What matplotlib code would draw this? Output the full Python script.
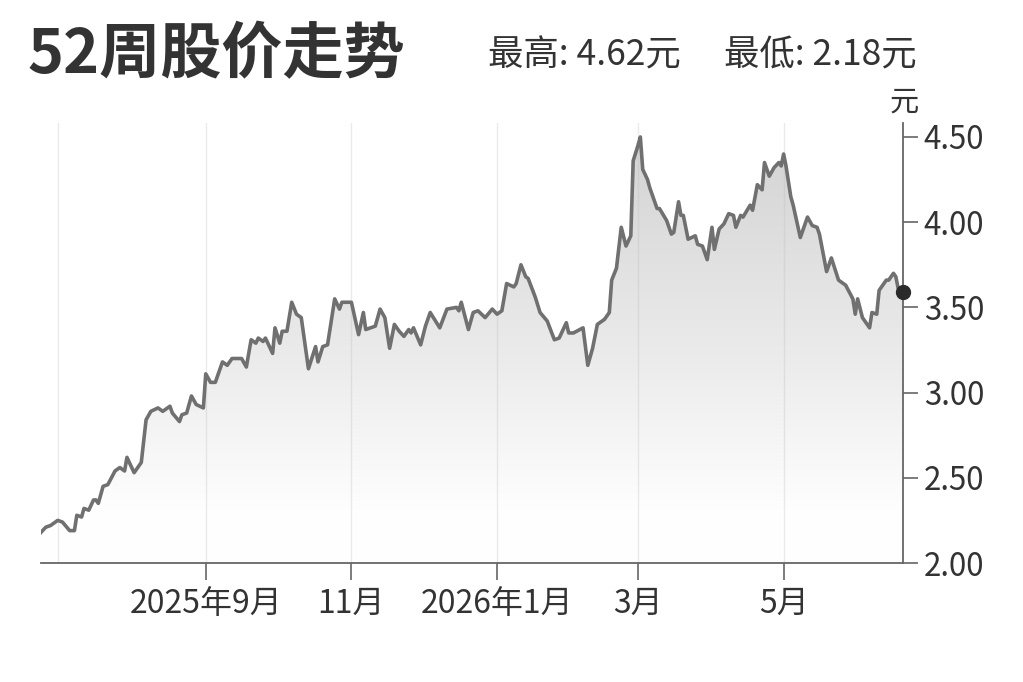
import numpy as np
import pandas as pd
import matplotlib
matplotlib.use("Agg")
import matplotlib.pyplot as plt
import matplotlib.dates as mdates
from matplotlib.colors import LinearSegmentedColormap
from matplotlib.patches import Polygon

plt.rcParams['font.family'] = ['Noto Sans CJK SC', 'DejaVu Sans']

# daily closes
dates = [
    "2025-06-24", "2025-06-26", "2025-06-28",
    "2025-07-01", "2025-07-03", "2025-07-06", "2025-07-08", "2025-07-09", "2025-07-11", "2025-07-12",
    "2025-07-14", "2025-07-16", "2025-07-17", "2025-07-18", "2025-07-20", "2025-07-22", "2025-07-25",
    "2025-07-27", "2025-07-29", "2025-07-30",
    "2025-08-02", "2025-08-04", "2025-08-05", "2025-08-07", "2025-08-09", "2025-08-12", "2025-08-14",
    "2025-08-17", "2025-08-18", "2025-08-21", "2025-08-22", "2025-08-24", "2025-08-26", "2025-08-28",
    "2025-08-31",
    "2025-09-01", "2025-09-03", "2025-09-05", "2025-09-08", "2025-09-10", "2025-09-12", "2025-09-16",
    "2025-09-18", "2025-09-20", "2025-09-22", "2025-09-23", "2025-09-25", "2025-09-26", "2025-09-29",
    "2025-09-30",
    "2025-10-02", "2025-10-03", "2025-10-05", "2025-10-07", "2025-10-09", "2025-10-11", "2025-10-14",
    "2025-10-17", "2025-10-18", "2025-10-20", "2025-10-22", "2025-10-25", "2025-10-27", "2025-10-28",
    "2025-11-01", "2025-11-04", "2025-11-06", "2025-11-07", "2025-11-09", "2025-11-11", "2025-11-13",
    "2025-11-15", "2025-11-17", "2025-11-19", "2025-11-21", "2025-11-23", "2025-11-25", "2025-11-26",
    "2025-11-27", "2025-11-30",
    "2025-12-02", "2025-12-04", "2025-12-08", "2025-12-11", "2025-12-15", "2025-12-16", "2025-12-17",
    "2025-12-20", "2025-12-22", "2025-12-24", "2025-12-27", "2025-12-30",
    "2026-01-01", "2026-01-03", "2026-01-05", "2026-01-08", "2026-01-09", "2026-01-11", "2026-01-13",
    "2026-01-14", "2026-01-17", "2026-01-19", "2026-01-22", "2026-01-25", "2026-01-27", "2026-01-30",
    "2026-01-31",
    "2026-02-02", "2026-02-06", "2026-02-08", "2026-02-10", "2026-02-12", "2026-02-15", "2026-02-17",
    "2026-02-18", "2026-02-20", "2026-02-22", "2026-02-24", "2026-02-26", "2026-02-27",
    "2026-03-01", "2026-03-02", "2026-03-03", "2026-03-05", "2026-03-06", "2026-03-09", "2026-03-10",
    "2026-03-13", "2026-03-15", "2026-03-16", "2026-03-18", "2026-03-19", "2026-03-20", "2026-03-22",
    "2026-03-25", "2026-03-26", "2026-03-28", "2026-03-30",
    "2026-04-01", "2026-04-02", "2026-04-04", "2026-04-06", "2026-04-08", "2026-04-10", "2026-04-11",
    "2026-04-13", "2026-04-14", "2026-04-17", "2026-04-18", "2026-04-20", "2026-04-22", "2026-04-23",
    "2026-04-25", "2026-04-27", "2026-04-29", "2026-04-30",
    "2026-05-01", "2026-05-02", "2026-05-04", "2026-05-05", "2026-05-08", "2026-05-11", "2026-05-13",
    "2026-05-15", "2026-05-16", "2026-05-19", "2026-05-21", "2026-05-24", "2026-05-27", "2026-05-30",
    "2026-05-31",
    "2026-06-01", "2026-06-03", "2026-06-06", "2026-06-07", "2026-06-09", "2026-06-10", "2026-06-11",
    "2026-06-13", "2026-06-14", "2026-06-16", "2026-06-17", "2026-06-18", "2026-06-20",
]

prices = [
    2.18, 2.21, 2.22,
    2.25, 2.24, 2.19, 2.19, 2.28, 2.27, 2.32, 2.31, 2.37, 2.37, 2.35, 2.45, 2.46, 2.54, 2.56, 2.54, 2.62,
    2.53, 2.57, 2.59, 2.84, 2.89, 2.91, 2.89, 2.92, 2.88, 2.83, 2.87, 2.88, 2.98, 2.93, 2.91,
    3.11, 3.06, 3.06, 3.18, 3.16, 3.20, 3.20, 3.15, 3.31, 3.29, 3.32, 3.30, 3.32, 3.23, 3.38,
    3.29, 3.36, 3.36, 3.53, 3.46, 3.44, 3.14, 3.27, 3.18, 3.27, 3.28, 3.55, 3.49, 3.53,
    3.53, 3.34, 3.47, 3.37, 3.38, 3.39, 3.49, 3.44, 3.26, 3.40, 3.36, 3.33, 3.37, 3.35, 3.38, 3.28,
    3.39, 3.47, 3.38, 3.49, 3.50, 3.48, 3.53, 3.37, 3.47, 3.48, 3.44, 3.49,
    3.46, 3.48, 3.64, 3.62, 3.64, 3.75, 3.68, 3.67, 3.56, 3.47, 3.42, 3.31, 3.32, 3.41, 3.35,
    3.35, 3.38, 3.16, 3.26, 3.40, 3.43, 3.47, 3.66, 3.73, 3.97, 3.86, 3.92, 4.36,
    4.45, 4.50, 4.31, 4.25, 4.20, 4.08, 4.08, 4.01, 3.93, 3.94, 4.12, 4.04, 4.04, 3.90, 3.92, 3.87, 3.86, 3.78,
    3.97, 3.84, 3.96, 3.99, 4.05, 4.04, 3.97, 4.04, 4.03, 4.10, 4.07, 4.22, 4.19, 4.35, 4.27, 4.32, 4.35, 4.33,
    4.40, 4.33, 4.15, 4.10, 3.91, 4.03, 3.98, 3.97, 3.93, 3.71, 3.79, 3.66, 3.63, 3.55, 3.46,
    3.55, 3.44, 3.38, 3.47, 3.46, 3.60, 3.62, 3.66, 3.66, 3.70, 3.68, 3.61, 3.59,
]

tick_dates = ["2025-09-01", "2025-11-01", "2026-01-01", "2026-03-01", "2026-05-01"]
tick_labels = ["2025年9月", "11月", "2026年1月", "3月", "5月"]
grid_dates = ["2025-07-01"] + tick_dates
y_ticks = [2.0, 2.5, 3.0, 3.5, 4.0, 4.5]

title = "52周股价走势"
high_text = "最高: 4.62元"
low_text = "最低: 2.18元"
unit = "元"

assert len(dates) == len(prices)
d = pd.to_datetime(dates)
x = mdates.date2num(d)
y = np.array(prices)

fig = plt.figure(figsize=(10.23, 6.82), dpi=100)
ax = fig.add_axes([41 / 1023, 1 - 563 / 682, 862 / 1023, 440 / 682])

ymin, ymax = 2.0, 4.582
x0, x1 = x[0], x[-1]

# gradient under the line, white low down, light grey near the top
cmap = LinearSegmentedColormap.from_list(
    "fade", [(0, "#ffffff"), (0.12, "#fefefe"), (0.45, "#ececec"), (1, "#d2d2d2")])
grad = np.linspace(0, 1, 256).reshape(-1, 1)
im = ax.imshow(grad, extent=[x0, x1, ymin, ymax], origin="lower",
               aspect="auto", cmap=cmap, zorder=1)
verts = [(x0, ymin)] + list(zip(x, y)) + [(x1, ymin)]
clip = Polygon(verts, closed=True, transform=ax.transData,
               facecolor="none", edgecolor="none")
ax.add_patch(clip)
im.set_clip_path(clip)

for g in pd.to_datetime(grid_dates):
    ax.axvline(g, color="#bbbbbb", lw=1.0, alpha=0.3, zorder=2)

ax.plot(d, y, color="#707070", lw=2.6, zorder=3, solid_joinstyle="round")
ax.plot(d[-1], y[-1], "o", color="#2b2b2b", ms=10, zorder=4, clip_on=False)

ax.set_xlim(x0, x1)
ax.set_ylim(ymin, ymax)

ax.set_xticks(pd.to_datetime(tick_dates))
ax.set_xticklabels(tick_labels)
ax.yaxis.tick_right()
ax.set_yticks(y_ticks)
ax.set_yticklabels([f"{v:.2f}" for v in y_ticks])

ax.tick_params(axis="x", length=12, width=1.2, color="#666666", pad=6,
               labelsize=23, labelcolor="#333333")
ax.tick_params(axis="y", length=11, width=1.2, color="#666666", pad=4,
               labelsize=22.5, labelcolor="#333333")

for s in ["left", "top"]:
    ax.spines[s].set_visible(False)
for s in ["right", "bottom"]:
    ax.spines[s].set_color("#666666")
    ax.spines[s].set_linewidth(1.3)

fig.text(27 / 1023, 1 - 55 / 682, title, fontsize=44, fontweight="bold",
         color="#333333", va="center", ha="left")
fig.text(488 / 1023, 1 - 55 / 682, high_text, fontsize=25.5,
         color="#333333", va="center", ha="left")
fig.text(724 / 1023, 1 - 55 / 682, low_text, fontsize=25.5,
         color="#333333", va="center", ha="left")
fig.text(904 / 1023, 1 - 103 / 682, unit, fontsize=21,
         color="#333333", va="center", ha="center")

fig.savefig("out.png", dpi=100, facecolor="white")
